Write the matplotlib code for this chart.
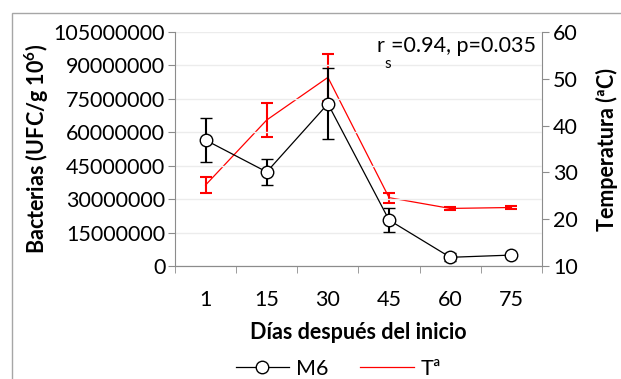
import matplotlib.pyplot as plt
from matplotlib.patches import Rectangle
from matplotlib.lines import Line2D

plt.rcParams['font.family'] = ['Lato', 'DejaVu Sans']
plt.rcParams['mathtext.fontset'] = 'custom'
plt.rcParams['mathtext.rm'] = 'Lato'
plt.rcParams['mathtext.bf'] = 'Lato:bold'

# datos
dias = ['1', '15', '30', '45', '60', '75']
m6 = [56500000, 42200000, 72800000, 20600000, 3900000, 4900000]
m6_err = [10000000, 6000000, 16000000, 5400000, 1800000, 800000]
temp = [27.3, 41.2, 50.3, 24.6, 22.3, 22.5]
temp_err = [1.8, 3.6, 5.0, 1.1, 0.3, 0.25]

gris = '#8c8c8c'
fs = 15.5
x = list(range(len(dias)))

fig = plt.figure(figsize=(6.21, 3.79), dpi=100)
ax = fig.add_axes([175 / 621, 1 - 266 / 379, (542 - 175) / 621, (266 - 32) / 379])
ax2 = ax.twinx()

# borde exterior del grafico
fig.patches.append(Rectangle((11.5 / 621, -0.1), 1.1, 1 - 13 / 379 + 0.1,
                             transform=fig.transFigure, fill=False,
                             edgecolor='#a6a6a6', lw=1))

ax.errorbar(x, m6, yerr=m6_err, color='black', lw=0.9, marker='o', ms=9,
            mfc='white', mec='black', mew=1, capsize=4.5, capthick=1.5,
            elinewidth=1.5, zorder=3)
ax2.errorbar(x, temp, yerr=temp_err, color='red', lw=0.9, capsize=4.5,
             capthick=1.5, elinewidth=1.5)

ax.set_xlim(-0.5, 5.5)
ax.set_ylim(0, 105000000)
ax.set_yticks(range(0, 105000001, 15000000))
ax.set_yticklabels([str(v) for v in range(0, 105000001, 15000000)])
ax2.set_ylim(10, 60)
ax2.set_yticks(range(10, 61, 10))

ax.set_xticks(x)
ax.set_xticklabels(dias)
ax.set_xticks([i - 0.5 for i in range(len(dias) + 1)], minor=True)
ax.tick_params(axis='x', which='major', length=0, pad=17, labelsize=fs)
ax.tick_params(axis='x', which='minor', length=5, color=gris, direction='out')
ax.tick_params(axis='y', length=5, color=gris, labelsize=fs, pad=2)
ax2.tick_params(axis='y', length=5, color=gris, labelsize=fs, pad=3)

ax.grid(axis='y', color='#ececec', lw=1)
ax.set_axisbelow(True)
ax.set_zorder(ax2.get_zorder() + 1)
ax.patch.set_visible(False)

for a in (ax, ax2):
    a.spines['top'].set_visible(False)
    for s in ('left', 'right', 'bottom'):
        a.spines[s].set_color(gris)
ax.spines['right'].set_visible(False)
ax2.spines['left'].set_visible(False)

ax.set_ylabel('Bacterias (UFC/g 10$^{\\mathbf{6}}$)', fontsize=fs, fontweight='bold', labelpad=2)
ax2.set_ylabel('Temperatura (ªC)', fontsize=fs, fontweight='bold', labelpad=13)
ax.set_xlabel('Días después del inicio', fontsize=fs, fontweight='bold', labelpad=9)

# r con subindice s bajado
t = ax.text(0.985, 0.985, '=0.94, p=0.035', transform=ax.transAxes,
            ha='right', va='top', fontsize=fs)
ax.annotate('r', xy=(0, 0), xycoords=t, xytext=(-5, 0), textcoords='offset points',
            ha='right', va='bottom', fontsize=fs)
ax.annotate('s', xy=(0, 0), xycoords=t, xytext=(-0.5, -1), textcoords='offset points',
            ha='right', va='top', fontsize=11)

h1 = Line2D([], [], color='black', lw=0.9, marker='o', ms=9, mfc='white', mec='black')
h2 = Line2D([], [], color='red', lw=0.9)
fig.legend([h1, h2], ['M6', 'Tª'], loc='lower center', bbox_to_anchor=(0.545, -0.05),
           ncol=2, frameon=False, fontsize=fs, handlelength=2.5, columnspacing=1.5,
           handletextpad=0.3)

fig.savefig('out.png', dpi=100)
